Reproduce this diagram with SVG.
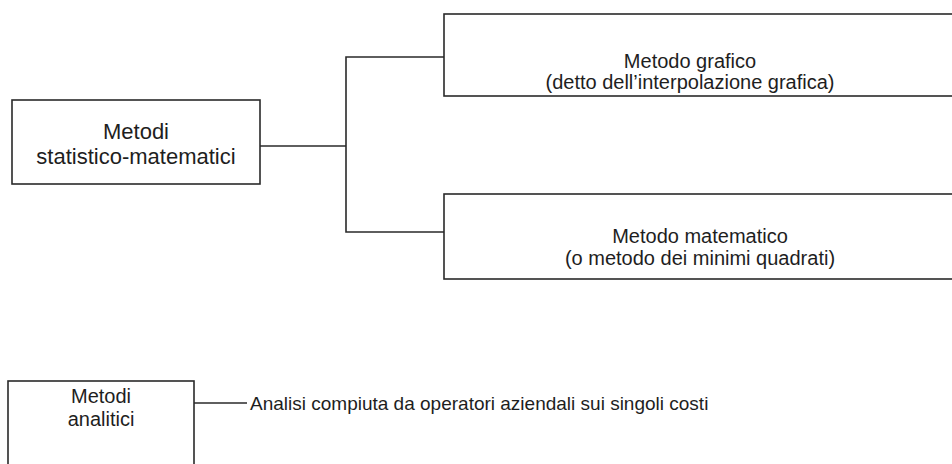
<svg xmlns="http://www.w3.org/2000/svg" width="952" height="464" viewBox="0 0 952 464">
  <style>
    .box { fill: #ffffff; stroke: #2a2a2a; stroke-width: 1.6; }
    .wire { fill: none; stroke: #2a2a2a; stroke-width: 1.6; }
    text { font-family: "Liberation Sans", Arial, sans-serif; font-size: 20px; fill: #1e1e1e; }
    .c { text-anchor: middle; }
    .big { font-size: 22px; }
    .note { font-size: 19px; }
  </style>
  <rect width="952" height="464" fill="#ffffff"/>

  <g id="connectors">
    <polyline class="wire" points="260,146 346,146"/>
    <polyline class="wire" points="444,57 346,57 346,232 444,232"/>
    <polyline class="wire" points="194,403 247,403"/>
  </g>

  <g id="stat-mat">
    <rect class="box" x="12" y="100" width="248" height="84"/>
    <text class="c big" x="136" y="139">Metodi</text>
    <text class="c big" x="136" y="164">statistico-matematici</text>
  </g>

  <g id="grafico">
    <rect class="box" x="444" y="14" width="520" height="82"/>
    <text class="c" x="690" y="68">Metodo grafico</text>
    <text class="c" x="690" y="89">(detto dell’interpolazione grafica)</text>
  </g>

  <g id="matematico">
    <rect class="box" x="444" y="194" width="520" height="85"/>
    <text class="c" x="700" y="243">Metodo matematico</text>
    <text class="c" x="700" y="265">(o metodo dei minimi quadrati)</text>
  </g>

  <g id="analitici">
    <rect class="box" x="8" y="381" width="186" height="100"/>
    <text class="c" x="101" y="403">Metodi</text>
    <text class="c" x="101" y="426">analitici</text>
  </g>

  <g id="analisi">
    <text class="note" x="250" y="410">Analisi compiuta da operatori aziendali sui singoli costi</text>
  </g>
</svg>
